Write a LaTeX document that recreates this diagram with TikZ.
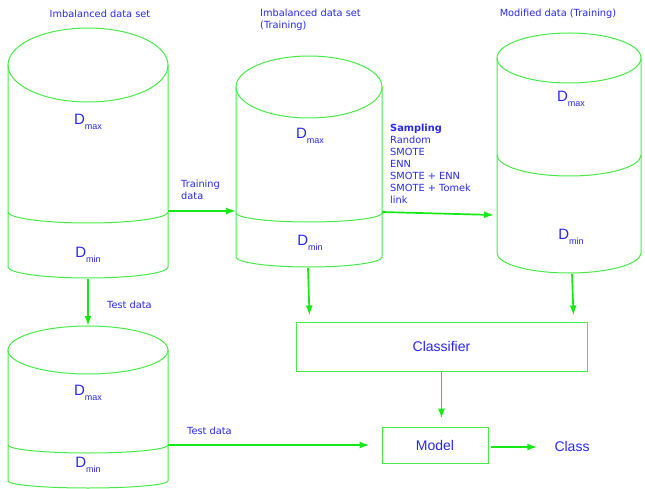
\documentclass[tikz,border=0pt]{standalone}
\usepackage{fontspec}
\setmainfont{DejaVu Sans}
\newfontfamily\arialfont{Liberation Sans}
\usetikzlibrary{arrows.meta}

\definecolor{cylgreen}{RGB}{70,235,70}
\definecolor{flowgreen}{RGB}{20,235,20}
\definecolor{labelblue}{RGB}{40,40,245}

\tikzset{
	cyl/.style = {draw = cylgreen, line width = 1pt},
	flow/.style = {->, draw = flowgreen, line width = 1.7pt},
	note/.style = {text = labelblue, font = \fontsize{9.8}{12}\selectfont, inner sep = 0pt, align = left},
	box/.style = {draw = cylgreen, line width = 1pt, text = labelblue, font = \arialfont\fontsize{14}{16}\selectfont, inner sep = 0pt},
	dlabel/.style = {text = labelblue, inner sep = 0pt}
}

\newcommand{\dsub}[1]{{\arialfont\fontsize{15}{15}\selectfont D\raisebox{-5pt}{\fontsize{9}{9}\selectfont #1}}}

\begin{document}
\begin{tikzpicture}[x = 1pt, y = -1pt, > = {Latex[length = 10pt, width = 7pt]}]

	\useasboundingbox (0, 0) rectangle (645, 489);

	% Imbalanced data set

	\draw [cyl] (88, 65) ellipse [x radius = 80, y radius = 37];
	\draw [cyl] (8, 65) -- (8, 267) arc [start angle = 180, end angle = 0, x radius = 80, y radius = 11] -- (168, 65);
	\draw [cyl] (8, 212) arc [start angle = 180, end angle = 0, x radius = 80, y radius = 11];
	\node [note] (fullTitle) at (100, 14) {Imbalanced data set};
	\node [dlabel] (fullMax) at (88, 122) {\dsub{max}};
	\node [dlabel] (fullMin) at (88, 255) {\dsub{min}};
	\coordinate (fullEast) at (168, 211);
	\coordinate (fullSouth) at (88, 279);

	% Imbalanced data set (Training)

	\draw [cyl] (309, 87) ellipse [x radius = 73, y radius = 31];
	\draw [cyl] (236, 87) -- (236, 257) arc [start angle = 180, end angle = 0, x radius = 73, y radius = 10] -- (382, 87);
	\draw [cyl] (236, 213) arc [start angle = 180, end angle = 0, x radius = 73, y radius = 9];
	\node [note, anchor = north west] (trainTitle) at (260, 9) {Imbalanced data set\\(Training)};
	\node [dlabel] (trainMax) at (310, 136) {\dsub{max}};
	\node [dlabel] (trainMin) at (310, 243) {\dsub{min}};
	\coordinate (trainWest) at (236, 211);
	\coordinate (trainEast) at (382, 212);
	\coordinate (trainSouth) at (308, 268);

	% Modified data (Training)

	\draw [cyl] (569, 58) ellipse [x radius = 72, y radius = 25];
	\draw [cyl] (497, 58) -- (497, 253) arc [start angle = 180, end angle = 0, x radius = 72, y radius = 20] -- (641, 58);
	\draw [cyl] (497, 155) arc [start angle = 180, end angle = 0, x radius = 72, y radius = 21];
	\node [note] (modTitle) at (558, 14) {Modified data (Training)};
	\node [dlabel] (modMax) at (571, 99) {\dsub{max}};
	\node [dlabel] (modMin) at (571, 237) {\dsub{min}};
	\coordinate (modWest) at (494, 215);
	\coordinate (modSouth) at (572, 274);

	% Test data set

	\draw [cyl] (88, 350) ellipse [x radius = 80, y radius = 24];
	\draw [cyl] (8, 350) -- (8, 481) arc [start angle = 180, end angle = 0, x radius = 80, y radius = 7] -- (168, 350);
	\draw [cyl] (8, 445) arc [start angle = 180, end angle = 0, x radius = 80, y radius = 8];
	\node [dlabel] (testMax) at (88, 393) {\dsub{max}};
	\node [dlabel] (testMin) at (88, 465) {\dsub{min}};
	\coordinate (testNorth) at (88, 326);
	\coordinate (testEast) at (168, 445);

	% Classifier, model and class

	\node [box, minimum width = 291pt, minimum height = 49pt] (clf) at (441.5, 346.5) {Classifier};
	\node [box, minimum width = 106pt, minimum height = 36pt] (model) at (435, 445) {Model};
	\node [text = labelblue, font = \arialfont\fontsize{14}{16}\selectfont, inner sep = 0pt] (class) at (572, 446) {Class};

	% Various arrows

	\begin{scope}[flow]

		\draw (fullEast) -- (trainWest);
		\draw (trainEast) -- (modWest);
		\draw (fullSouth) -- (testNorth);
		\draw (trainSouth) -- ([xshift = 14pt, yshift = 6pt]clf.north west);
		\draw (modSouth) -- ([xshift = -14pt, yshift = 6pt]clf.north east);
		\draw [shorten > = 8pt] (clf.south) -- (clf.south |- model.north);
		\draw [shorten > = 12pt] (testEast) -- (model.west);
		\draw [shorten < = 2pt, shorten > = 17pt] ([yshift = -2pt]model.east) -- ([yshift = -1pt]class.west);

	\end{scope}

	% Arrow labels

	\node [note, anchor = west] (trainLabel) at (181, 190) {Training\\data};
	\node [note, anchor = north west] (sampLabel) at (390, 124) {\textbf{Sampling}\\Random\\SMOTE\\ENN\\SMOTE + ENN\\SMOTE + Tomek\\link};
	\node [note, anchor = west] (testLabel) at (107, 305) {Test data};
	\node [note, anchor = west] (testLabelB) at (187, 431) {Test data};

\end{tikzpicture}
\end{document}
